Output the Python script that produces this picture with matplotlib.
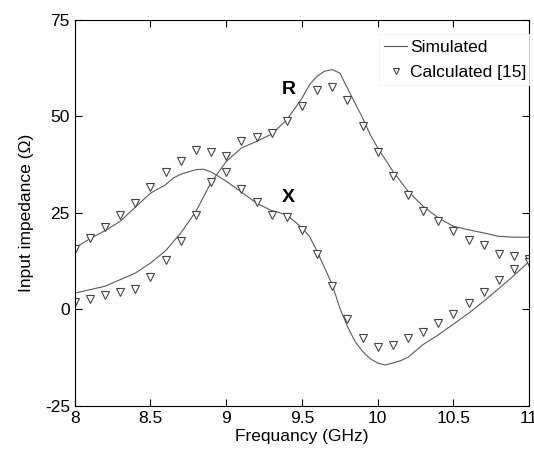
import numpy as np
import matplotlib
matplotlib.use('Agg')
import matplotlib.pyplot as plt

plt.rcParams['font.family'] = ['Liberation Sans', 'DejaVu Sans']
plt.rcParams['axes.unicode_minus'] = False

# Simulated curves
f_sim = [8.0, 8.1, 8.2, 8.3, 8.4, 8.5, 8.6, 8.65, 8.7, 8.8, 8.85, 8.9, 9.0, 9.1, 9.2, 9.3,
         9.4, 9.5, 9.55, 9.6, 9.65, 9.7, 9.75, 9.8, 9.85, 9.9, 9.95, 10.0, 10.05, 10.1,
         10.15, 10.2, 10.3, 10.4, 10.5, 10.6, 10.7, 10.8, 10.9, 11.0]
x_sim = [15.9, 18.3, 20.4, 22.8, 26.5, 30.1, 32.3, 34.0, 35.0, 36.2, 36.3, 35.6, 33.2, 30.4,
         27.5, 25.6, 24.5, 21.1, 18.9, 15.0, 10.7, 6.4, 0.3, -4.4, -8.3, -10.9, -12.8, -13.9,
         -14.4, -13.9, -13.3, -12.4, -9.1, -6.6, -3.8, -1.0, 2.1, 5.4, 8.8, 12.4]

f_rsim = [8.0, 8.1, 8.2, 8.3, 8.4, 8.5, 8.6, 8.7, 8.8, 8.9, 9.0, 9.1, 9.2, 9.3, 9.4, 9.5,
          9.55, 9.6, 9.65, 9.7, 9.75, 9.8, 9.85, 9.9, 9.95, 10.0, 10.1, 10.2, 10.3, 10.4,
          10.5, 10.6, 10.7, 10.8, 10.9, 11.0]
r_sim = [4.2, 5.1, 6.0, 7.7, 9.4, 12.0, 15.2, 19.8, 25.4, 32.9, 38.3, 41.8, 43.5, 45.4, 49.1,
         54.7, 58.2, 60.4, 61.7, 62.1, 61.2, 57.3, 53.4, 49.6, 45.3, 41.8, 35.8, 30.6, 26.7,
         23.7, 21.5, 20.6, 19.8, 18.9, 18.7, 18.7]

# Calculated [15], every 0.1 GHz
f_calc = np.round(np.arange(8.0, 11.01, 0.1), 1)
r_calc = [1.8, 2.8, 3.8, 4.5, 5.4, 8.5, 12.7, 17.6, 24.5, 32.9, 35.5, 43.7, 44.6, 45.6, 48.7,
          52.8, 56.7, 57.7, 54.1, 47.6, 40.7, 34.6, 29.7, 25.6, 22.8, 20.2, 17.9, 16.6, 14.4,
          13.7, 13.0]
x_calc = [15.6, 18.5, 21.4, 24.5, 27.6, 31.8, 35.5, 38.5, 41.4, 40.7, 39.8, 31.3, 27.7, 24.5,
          23.8, 20.6, 14.4, 6.1, -2.4, -7.3, -9.7, -9.3, -7.4, -5.9, -3.5, -1.1, 1.6, 4.5, 7.6,
          10.5, 12.2]

fig = plt.figure(figsize=(5.34, 4.5), dpi=100)
ax = fig.add_axes([0.140, 0.098, 0.851, 0.858])

lc = '#5a5a5a'
ax.plot(f_rsim, r_sim, color=lc, lw=0.8, label='Simulated')
ax.plot(f_sim, x_sim, color=lc, lw=0.8)
ax.plot(f_calc, r_calc, 'v', ms=6, mfc='white', mec='#444444', mew=0.8, ls='none',
        label='Calculated [15]')
ax.plot(f_calc, x_calc, 'v', ms=6, mfc='white', mec='#444444', mew=0.8, ls='none')

ax.text(9.41, 57, 'R', fontsize=14, fontweight='bold', ha='center', va='center')
ax.text(9.41, 29, 'X', fontsize=14, fontweight='bold', ha='center', va='center')

ax.set_xlim(8, 11)
ax.set_ylim(-25, 75)
ax.set_xticks([8, 8.5, 9, 9.5, 10, 10.5, 11])
ax.set_xticklabels(['8', '8.5', '9', '9.5', '10', '10.5', '11'])
ax.set_yticks([-25, 0, 25, 50, 75])
ax.tick_params(direction='in', top=True, right=True, labelsize=12.5, length=5)
ax.set_xlabel('Frequancy (GHz)', fontsize=12.5, labelpad=2)
ax.set_ylabel('Input impedance (\u03a9)', fontsize=12.5, labelpad=8)

leg = ax.legend(loc='upper right', bbox_to_anchor=(1.025, 0.985), fontsize=12.5, frameon=True,
                handlelength=1.3, handletextpad=0.2, markerscale=0.7, borderpad=0.3,
                labelspacing=0.6, fancybox=False)
leg.get_frame().set_edgecolor('#f0f0f0')
leg.get_frame().set_linewidth(0.6)

fig.savefig('out.png', dpi=100)
